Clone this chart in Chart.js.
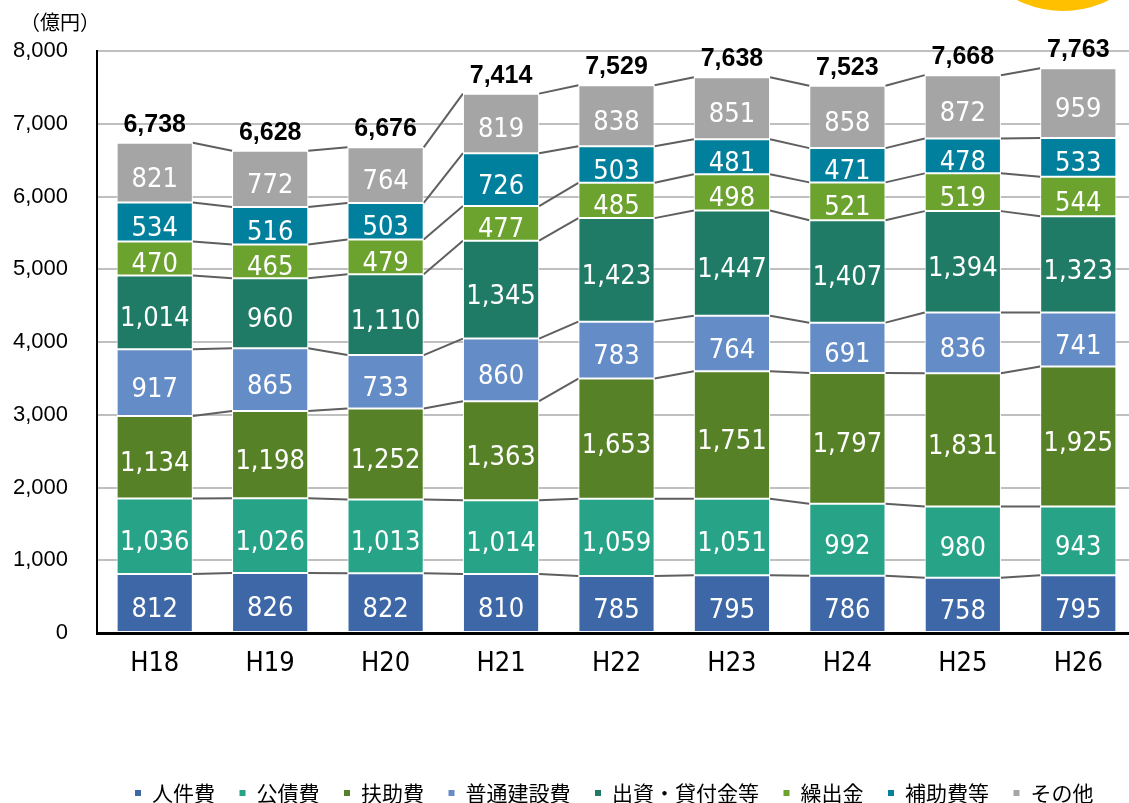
<!DOCTYPE html>
<html><head><meta charset="utf-8">
<script src="https://cdn.jsdelivr.net/npm/chart.js@4/dist/chart.umd.min.js"></script>
<style>
html,body{margin:0;padding:0;overflow:hidden;background:#fff;width:1129px;height:803px}
#wrap{position:absolute;left:0;top:0;width:1140px;height:803px}
</style></head>
<body><div id="wrap"><canvas id="c" width="1140" height="803"></canvas></div>
<script>
// ---- data ----
const categories = ['H18','H19','H20','H21','H22','H23','H24','H25','H26'];
const seriesNames = ['人件費','公債費','扶助費','普通建設費','出資・貸付金等','繰出金','補助費等','その他'];
const jinkenhi   = [812, 826, 822, 810, 785, 795, 786, 758, 795];
const kousaihi   = [1036, 1026, 1013, 1014, 1059, 1051, 992, 980, 943];
const fujohi     = [1134, 1198, 1252, 1363, 1653, 1751, 1797, 1831, 1925];
const futsuKensetsu = [917, 865, 733, 860, 783, 764, 691, 836, 741];
const shusshiKashitsuke = [1014, 960, 1110, 1345, 1423, 1447, 1407, 1394, 1323];
const kuridashi  = [470, 465, 479, 477, 485, 498, 521, 519, 544];
const hojohi     = [534, 516, 503, 726, 503, 481, 471, 478, 533];
const sonota     = [821, 772, 764, 819, 838, 851, 858, 872, 959];
const totals     = [6738, 6628, 6676, 7414, 7529, 7638, 7523, 7668, 7763];
const yTickValues = [0,1000,2000,3000,4000,5000,6000,7000,8000];
const unitLabel = '（億円）';

const seriesValues = [jinkenhi,kousaihi,fujohi,futsuKensetsu,shusshiKashitsuke,kuridashi,hojohi,sonota];
const seriesColors = ['#3D67A6','#27A387','#568126','#648CC6','#1F7B66','#6CA22E','#00809C','#A5A5A5'];

const narrow = '"Liberation Sans Narrow","Arial Narrow","DejaVu Sans Condensed",sans-serif';
const fmt = v => v.toLocaleString('en-US');

const overlay = {
  id: 'overlay',
  afterLayout(chart) {
    const lg = chart.legend;
    if (!lg) return;
    const p = lg.options.labels.padding;
    const dy = 793 - (lg.top + p + 10.5);
    lg.top += dy; lg.bottom += dy;
    lg.left += 46; lg.right += 46;
  },
  beforeDraw(chart) {
    const ctx = chart.ctx;
    ctx.save();
    ctx.fillStyle = '#FFC000';
    ctx.beginPath(); ctx.arc(1063, -91, 102, 0, Math.PI*2); ctx.fill();
    ctx.fillStyle = '#000';
    ctx.font = '20px "Noto Sans CJK JP"';
    ctx.textBaseline = 'middle'; ctx.textAlign = 'left';
    ctx.fillText(unitLabel, 20, 22);
    ctx.restore();
  },
  beforeDatasetsDraw(chart) {
    const ctx = chart.ctx;
    ctx.save();
    ctx.strokeStyle = '#5F5F5F';
    ctx.lineWidth = 2;
    chart.data.datasets.forEach((ds, d) => {
      const meta = chart.getDatasetMeta(d);
      for (let i = 0; i < meta.data.length - 1; i++) {
        const a = meta.data[i], b = meta.data[i+1];
        ctx.beginPath();
        ctx.moveTo(a.x + a.width/2, a.y);
        ctx.lineTo(b.x - b.width/2, b.y);
        ctx.stroke();
      }
    });
    ctx.restore();
  },
  afterDatasetsDraw(chart) {
    const ctx = chart.ctx;
    ctx.save();
    ctx.textAlign = 'center';
    ctx.textBaseline = 'middle';
    ctx.fillStyle = '#fff';
    ctx.font = '27px ' + narrow;
    chart.data.datasets.forEach((ds, d) => {
      const meta = chart.getDatasetMeta(d);
      meta.data.forEach((el, i) => {
        ctx.fillText(fmt(ds.data[i]), el.x, (el.y + el.base)/2 + 7);
      });
    });
    const top = chart.getDatasetMeta(chart.data.datasets.length - 1);
    ctx.fillStyle = '#000';
    ctx.font = 'bold 25px "Liberation Sans", Arial, sans-serif';
    ctx.textBaseline = 'alphabetic';
    top.data.forEach((el, i) => {
      ctx.fillText(fmt(totals[i]), el.x, el.y - 11);
    });
    ctx.restore();
  }
};

new Chart(document.getElementById('c'), {
  type: 'bar',
  data: {
    labels: categories,
    datasets: seriesNames.map((n, k) => ({
      label: n,
      data: seriesValues[k],
      backgroundColor: seriesColors[k],
      borderColor: '#ffffff',
      borderWidth: 1,
      borderSkipped: false,
      categoryPercentage: 0.66,
      barPercentage: 1
    }))
  },
  options: {
    responsive: false,
    animation: false,
    layout: { padding: { top: 51, right: 4, left: 0, bottom: 0 } },
    plugins: {
      tooltip: { enabled: false },
      legend: {
        position: 'bottom',
        labels: {
          color: '#000',
          font: { family: '"Noto Sans CJK JP"', size: 21 },
          boxWidth: 7, boxHeight: 7,
          padding: 24
        }
      }
    },
    scales: {
      x: {
        stacked: true,
        grid: { display: false, drawTicks: false },
        border: { display: true, color: '#000', width: 3 },
        ticks: { color: '#000', font: { family: narrow, size: 27 }, padding: 15 },
        afterFit(s) { s.height = 803 - 633 - (s.chart.legend ? s.chart.legend.height : 0); }
      },
      y: {
        stacked: true,
        min: 0, max: 8000,
        afterBuildTicks(s) { s.ticks = yTickValues.map(v => ({ value: v })); },
        grid: { color: '#BFBFBF', lineWidth: 2, drawTicks: false },
        border: { display: true, color: '#000', width: 2 },
        ticks: { color: '#000', font: { family: '"Liberation Sans", Arial, sans-serif', size: 22 }, padding: 29,
                 callback: v => fmt(v) },
        afterFit(s) { s.width = 97; }
      }
    }
  },
  plugins: [overlay]
});
</script>
</body></html>
